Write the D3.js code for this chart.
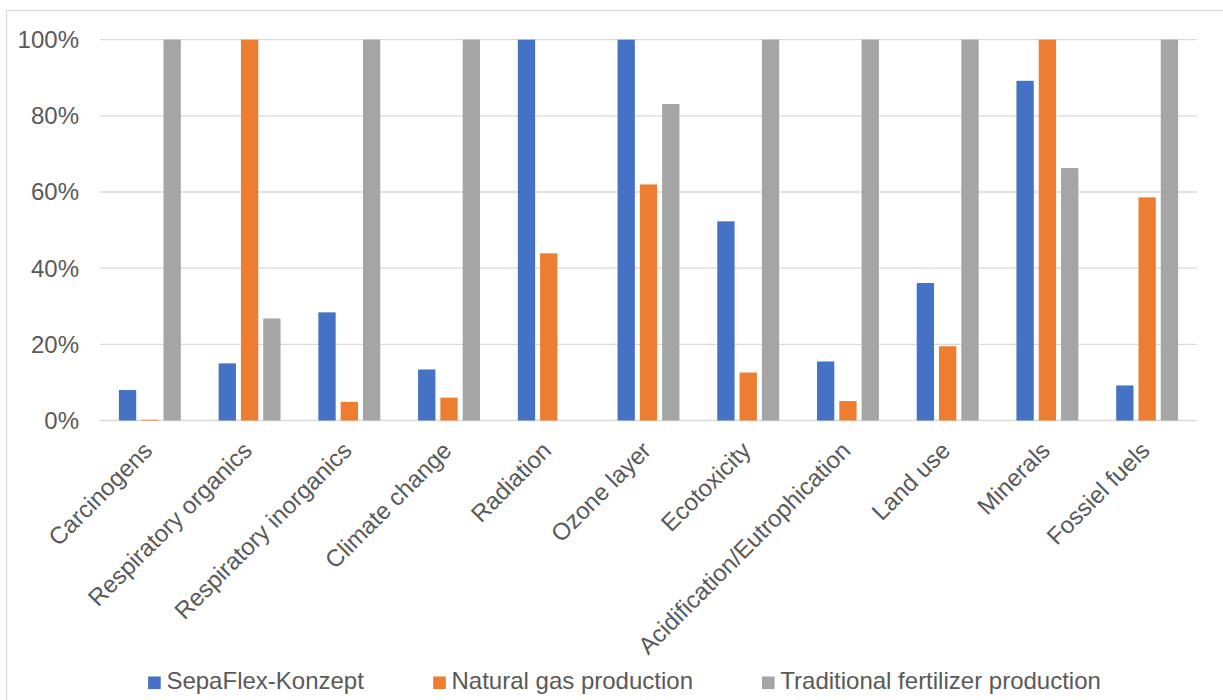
<!DOCTYPE html>
<html>
<head>
<meta charset="utf-8">
<script src="https://cdn.jsdelivr.net/npm/d3@7"></script>
<style>
  html, body { margin: 0; padding: 0; background: #ffffff; }
  svg { display: block; }
  text { font-family: "Liberation Sans", Arial, sans-serif; fill: #595959; }
</style>
</head>
<body>
<svg id="chart" width="1223" height="700"></svg>
<script>
// Impact categories (x axis)
const categories = [
  "Carcinogens", "Respiratory organics", "Respiratory inorganics", "Climate change",
  "Radiation", "Ozone layer", "Ecotoxicity", "Acidification/Eutrophication",
  "Land use", "Minerals", "Fossiel fuels"
];

// Series names
const seriesNames = ["SepaFlex-Konzept", "Natural gas production", "Traditional fertilizer production"];

// Relative impact per category, in percent
const sepaFlex    = [8.0, 15.0, 28.4, 13.4, 100, 100, 52.3, 15.5, 36.1, 89.2, 9.2];
const naturalGas  = [0.2, 100, 4.9, 6.0, 43.9, 62.0, 12.6, 5.1, 19.5, 100, 58.6];
const traditional = [100, 26.8, 100, 100, 0, 83.1, 100, 100, 100, 66.3, 100];

// Y axis ticks
const yTicks = [0, 20, 40, 60, 80, 100];

const seriesValues = [sepaFlex, naturalGas, traditional];
const colors = ["#4472C4", "#ED7D31", "#A5A5A5"];

const svg = d3.select("#chart");

// Outer chart-area frame
svg.append("rect")
  .attr("x", 6.5).attr("y", 10.5)
  .attr("width", 1240).attr("height", 720)
  .attr("fill", "none")
  .attr("stroke", "#D9D9D9")
  .attr("stroke-width", 1.3);

const plot = { left: 100, right: 1197, top: 39.7, bottom: 420.5 };

const x = d3.scaleBand()
  .domain(categories)
  .range([plot.left, plot.right])
  .padding(0);

const y = d3.scaleLinear()
  .domain([0, 100])
  .range([plot.bottom, plot.top]);

// Bars within a category
const groupWidth = 61.9;
const xInner = d3.scaleBand()
  .domain(seriesNames)
  .range([0, groupWidth])
  .paddingInner(0.224)
  .paddingOuter(0);

// Gridlines
svg.append("g")
  .selectAll("line")
  .data(yTicks)
  .join("line")
  .attr("x1", plot.left).attr("x2", plot.right)
  .attr("y1", d => y(d)).attr("y2", d => y(d))
  .attr("stroke", "#D9D9D9")
  .attr("stroke-width", 1.3);

// Y axis labels
svg.append("g")
  .selectAll("text")
  .data(yTicks)
  .join("text")
  .attr("x", 79)
  .attr("y", d => y(d))
  .attr("dy", "0.35em")
  .attr("text-anchor", "end")
  .attr("font-size", 24)
  .text(d => d + "%");

// Bars
const groups = svg.append("g")
  .selectAll("g")
  .data(categories)
  .join("g")
  .attr("transform", c => `translate(${x(c) + (x.bandwidth() - groupWidth) / 2},0)`);

groups.selectAll("rect")
  .data((c, i) => seriesNames.map((s, k) => ({ s, k, v: seriesValues[k][i] })))
  .join("rect")
  .attr("x", d => xInner(d.s))
  .attr("width", xInner.bandwidth())
  .attr("y", d => y(d.v))
  .attr("height", d => y(0) - y(d.v))
  .attr("fill", d => colors[d.k]);

// Category labels, rotated
svg.append("g")
  .selectAll("text")
  .data(categories)
  .join("text")
  .attr("transform", c => `translate(${x(c) + x.bandwidth() / 2 + 4},452) rotate(-45)`)
  .attr("text-anchor", "end")
  .attr("font-size", 24)
  .text(c => c);

// Legend
const legend = svg.append("g");
const items = legend.selectAll("g")
  .data(seriesNames)
  .join("g");
items.append("rect")
  .attr("width", 12.6).attr("height", 12.6)
  .attr("y", 676.5)
  .attr("fill", (d, i) => colors[i]);
items.append("text")
  .attr("x", 18.3)
  .attr("y", 689)
  .attr("font-size", 24)
  .text(d => d);

const gap = 69;
const widths = [];
items.each(function() { widths.push(this.getBBox().width); });
const total = d3.sum(widths) + gap * (widths.length - 1);
let cursor = 624.5 - total / 2;
items.attr("transform", (d, i) => {
  const t = `translate(${cursor},0)`;
  cursor += widths[i] + gap;
  return t;
});
</script>
</body>
</html>
